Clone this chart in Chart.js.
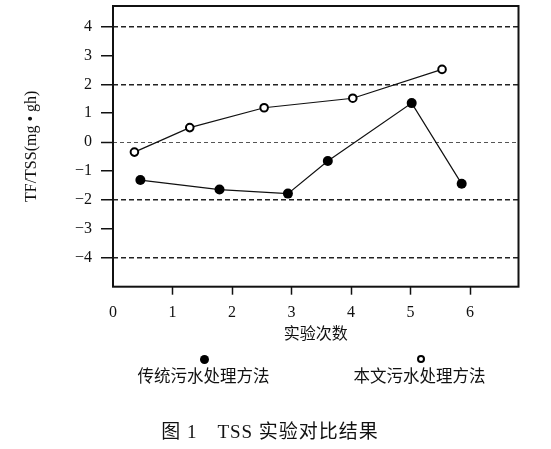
<!DOCTYPE html>
<html>
<head>
<meta charset="utf-8">
<script src="https://cdn.jsdelivr.net/npm/chart.js@4/dist/chart.umd.min.js"></script>
<style>
  html, body { margin: 0; padding: 0; background: #fff; }
  #wrap { position: relative; width: 551px; height: 449px; overflow: hidden; background: #fff; }
  #c { position: absolute; left: 0; top: 0; }
  .txt { position: absolute; color: #111; white-space: nowrap; text-align: center;
         font-family: "Liberation Serif", "Noto Sans CJK SC", serif; }
  .mk { position: absolute; border-radius: 50%; box-sizing: border-box; }
</style>
</head>
<body>
<div id="wrap">
  <canvas id="c" width="551" height="449"></canvas>
  <div class="mk" id="mk1" style="left:199.8px; top:354.5px; width:9px; height:9px; background:#000;"></div>
  <div class="mk" id="mk2" style="left:416.7px; top:355px; width:8px; height:8px; background:#fff; border:2px solid #000;"></div>
  <div class="txt" id="lg1" style="left:103.5px; width:200px; top:366px; height:22px; line-height:22px; font-size:16.5px;"></div>
  <div class="txt" id="lg2" style="left:319.5px; width:200px; top:366px; height:22px; line-height:22px; font-size:16.5px;"></div>
  <div class="txt" id="cap" style="left:120px; width:300px; top:420px; height:24px; line-height:24px; font-size:19px; letter-spacing:1px;"></div>
</div>
<script>
// ---- data ----
const xTicks = [0, 1, 2, 3, 4, 5, 6];
const yTicks = [-4, -3, -2, -1, 0, 1, 2, 3, 4];
const xTitle = "实验次数";
const yTitle = "TF/TSS(mg • gh)";
const seriesNames = ["传统污水处理方法", "本文污水处理方法"];
const captionText = "图 1\u3000TSS 实验对比结果";

const tradX = [0.46, 1.79, 2.94, 3.61, 5.02, 5.86];
const tradY = [-1.32, -1.65, -1.79, -0.66, 1.35, -1.45];
const newX = [0.36, 1.29, 2.54, 4.03, 5.53];
const newY = [-0.35, 0.50, 1.19, 1.52, 2.52];

// ---- overlay text ----
document.getElementById('lg1').textContent = seriesNames[0];
document.getElementById('lg2').textContent = seriesNames[1];
document.getElementById('cap').textContent = captionText;

const SERIF = '"Liberation Serif", "Noto Sans CJK SC", serif';

const boxPlugin = {
  id: 'box',
  beforeDatasetsDraw(chart) {
    const {ctx, chartArea: a} = chart;
    ctx.save();
    ctx.strokeStyle = '#111';
    ctx.lineWidth = 2;
    ctx.setLineDash([]);
    ctx.strokeRect(a.left, a.top, a.right - a.left, a.bottom - a.top);
    ctx.restore();
  }
};

const noPad = s => { s.paddingTop = 0; s.paddingBottom = 0; s.paddingLeft = 0; s.paddingRight = 0; };
const toPts = (xs, ys) => xs.map((x, i) => ({x: x, y: ys[i]}));

new Chart(document.getElementById('c'), {
  type: 'line',
  data: {
    datasets: [
      {
        label: seriesNames[0],
        data: toPts(tradX, tradY),
        borderColor: '#111',
        borderWidth: 1.2,
        pointRadius: 5,
        pointBackgroundColor: '#000',
        pointBorderColor: '#000',
        pointBorderWidth: 0,
        tension: 0,
        fill: false
      },
      {
        label: seriesNames[1],
        data: toPts(newX, newY),
        borderColor: '#111',
        borderWidth: 1.2,
        pointRadius: 3.8,
        pointBackgroundColor: '#fff',
        pointBorderColor: '#000',
        pointBorderWidth: 2,
        tension: 0,
        fill: false
      }
    ]
  },
  options: {
    responsive: false,
    animation: false,
    devicePixelRatio: 1,
    layout: { padding: { left: 0, right: 32.5, top: 5.7, bottom: 0 } },
    plugins: { legend: { display: false }, tooltip: { enabled: false } },
    scales: {
      x: {
        type: 'linear',
        position: 'bottom',
        min: 0,
        max: 6.815,
        afterBuildTicks: s => { s.ticks = xTicks.map(v => ({value: v})); },
        afterFit: s => { s.height = 449 - 286.7; noPad(s); },
        grid: {
          drawOnChartArea: false,
          drawTicks: true,
          tickLength: 8,
          tickWidth: 1.5,
          tickBorderDash: [],
          tickColor: c => (c.tick && c.tick.value === 0) ? 'rgba(0,0,0,0)' : '#111'
        },
        border: { display: false },
        ticks: {
          padding: 8,
          color: '#111',
          autoSkip: false,
          maxRotation: 0,
          font: { family: SERIF, size: 16 }
        },
        title: {
          display: true,
          text: xTitle,
          color: '#111',
          font: { family: SERIF, size: 16 },
          padding: { top: 0, bottom: 104.4 }
        }
      },
      y: {
        type: 'linear',
        position: 'left',
        min: -5.02,
        max: 4.72,
        afterBuildTicks: s => { s.ticks = yTicks.map(v => ({value: v})); },
        afterFit: s => { s.width = 113; noPad(s); },
        grid: {
          drawOnChartArea: true,
          drawTicks: true,
          tickLength: 12,
          tickWidth: 1.5,
          tickBorderDash: [],
          tickColor: '#111',
          color: c => {
            const v = c.tick ? c.tick.value : 1;
            if (v === 0) return '#555';
            return (v % 2 === 0) ? '#222' : 'rgba(0,0,0,0)';
          },
          lineWidth: c => (c.tick && c.tick.value === 0) ? 1 : 1.5
        },
        border: {
          display: false,
          dash: c => (c.tick && c.tick.value === 0) ? [4, 3] : [5, 3]
        },
        ticks: {
          padding: 9,
          color: '#111',
          font: { family: SERIF, size: 16 },
          callback: v => v < 0 ? '\u2212' + Math.abs(v) : String(v)
        },
        title: {
          display: true,
          text: yTitle,
          color: '#111',
          font: { family: SERIF, size: 16 },
          padding: { top: 22.2, bottom: 0 }
        }
      }
    }
  },
  plugins: [boxPlugin]
});
</script>
</body>
</html>
